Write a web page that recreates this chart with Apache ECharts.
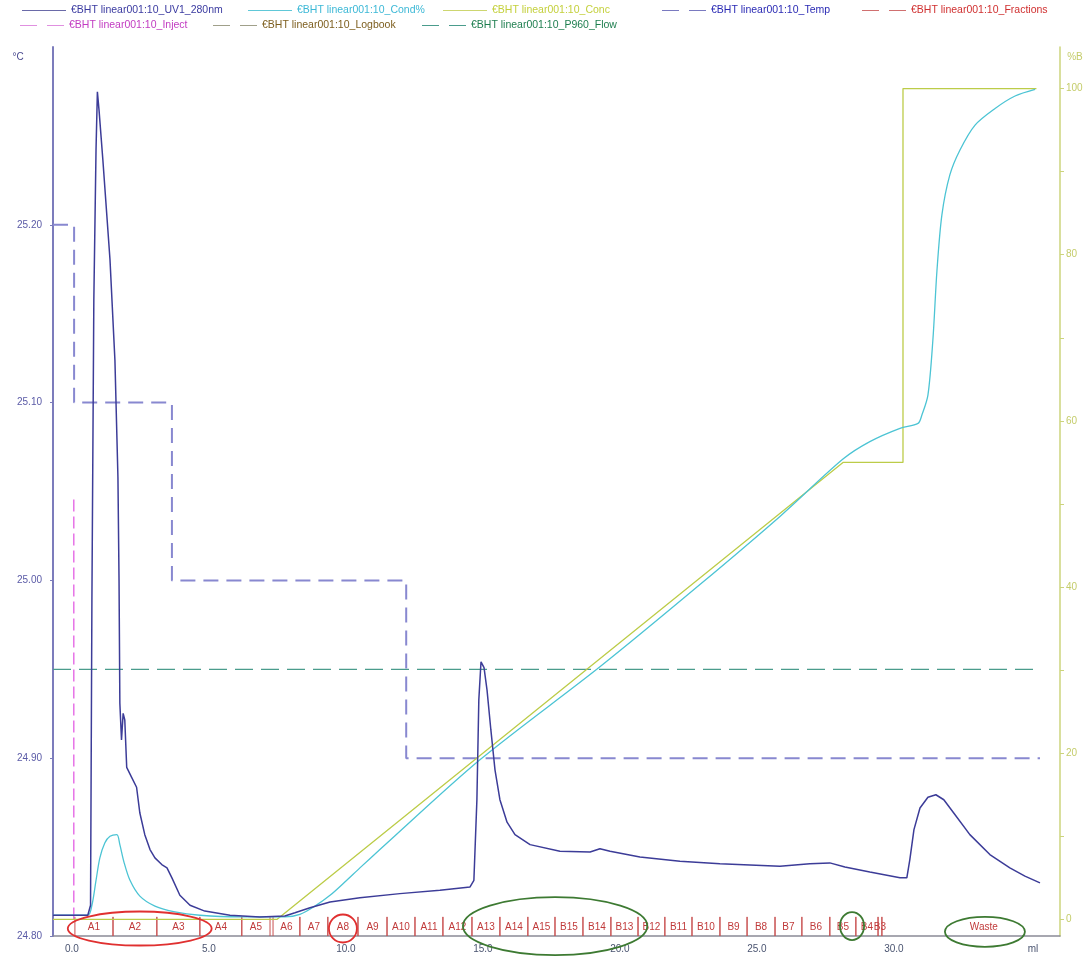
<!DOCTYPE html>
<html>
<head>
<meta charset="utf-8">
<script src="https://cdn.jsdelivr.net/npm/echarts@6/dist/echarts.min.js"></script>
<style>html,body{margin:0;padding:0;background:#fff}#main{width:1089px;height:958px}</style>
</head>
<body>
<div id="main"></div>
<script>
var runName = '€BHT linear001:10_';

// UV 280nm trace, [ml, signal]
var uv = [[-0.69,0.5],[0.58,0.5],[0.68,1.7],[0.73,38.4],[0.80,74.5],[0.88,92.6],[0.93,99.6],[0.99,97.4],
  [1.13,91.4],[1.39,79.4],[1.57,67.3],[1.68,53.2],[1.72,40.8],[1.75,26.0],[1.81,21.6],[1.87,24.8],
  [1.93,24.0],[2.00,18.3],[2.18,17.1],[2.36,15.9],[2.48,12.8],[2.66,10.2],[2.85,8.4],[3.03,7.4],
  [3.28,6.6],[3.47,6.2],[3.65,5.0],[3.94,2.9],[4.31,1.7],[4.85,1.0],[5.77,0.5],[6.86,0.3],[7.77,0.4],
  [8.14,0.8],[8.69,1.4],[9.42,2.1],[10.51,2.6],[11.97,3.1],[13.43,3.5],[14.53,3.9],[14.67,4.7],
  [14.78,14.4],[14.85,26.4],[14.93,31.0],[15.04,30.3],[15.15,27.6],[15.29,22.8],[15.44,18.0],
  [15.62,14.4],[15.88,11.7],[16.17,10.2],[16.72,9.0],[17.81,8.2],[18.91,8.1],[19.27,8.5],[19.64,8.2],
  [20.73,7.5],[22.19,7.0],[23.65,6.7],[25.84,6.4],[26.93,6.7],[27.66,6.8],[28.21,6.3],[29.12,5.7],
  [30.22,5.0],[30.47,5.0],[30.58,7.2],[30.73,10.8],[30.95,13.4],[31.24,14.7],[31.53,15.0],[31.82,14.4],
  [32.23,12.6],[32.77,10.2],[33.50,7.8],[34.23,6.2],[34.78,5.2],[35.33,4.4]];

// conductivity %, [ml, %]
var cond = [[-0.69,0.5],[0.58,0.5],[0.73,1.7],[0.88,4.7],[1.02,7.4],[1.20,9.2],[1.39,10.0],[1.64,10.2],
  [1.75,9.0],[1.90,6.9],[2.12,4.7],[2.48,2.8],[3.03,1.6],[3.76,0.9],[4.67,0.5],[6.13,0.3],[7.77,0.3],
  [8.32,0.6],[8.87,1.6],[9.42,2.9],[9.96,4.5],[10.51,6.2],[11.24,8.4],[14.89,19.2],[19.27,30.4],
  [22.92,40.3],[25.84,48.5],[28.14,55.4],[29.12,57.5],[30.22,59.1],[30.88,59.7],[31.02,60.7],
  [31.24,63.1],[31.42,69.7],[31.57,78.1],[31.75,84.8],[32.04,89.6],[32.41,92.6],[32.96,95.6],
  [33.69,97.6],[34.42,99.1],[35.15,99.9]];

// %B gradient
var conc = [[-0.69,0],[7.48,0],[28.14,55],[30.33,55],[30.33,100],[35.2,100]];

// temperature °C (stepwise)
var temp = [[-0.69,25.2],[0.08,25.1],[3.65,25.0],[12.2,24.9],[35.33,24.9]];

var inject = [[0.07,0],[0.07,51]];
var flow = [[-0.69,30.1],[35.33,30.1]];

var fracNames = ['A1','A2','A3','A4','A5','A6','A7','A8','A9','A10','A11','A12','A13','A14','A15',
  'B15','B14','B13','B12','B11','B10','B9','B8','B7','B6','B5','B4','B3','Waste'];
var fracStart = [0.11,1.50,3.10,4.67,6.20,7.34,8.32,9.34,10.44,11.50,12.52,13.54,14.60,15.62,16.64,
  17.63,18.65,19.67,20.66,21.64,22.63,23.65,24.64,25.66,26.64,27.66,28.61,29.42,29.56];
var fracEnd = [1.50,3.10,4.67,6.20,7.23,8.32,9.34,10.44,11.50,12.52,13.54,14.60,15.62,16.64,17.63,
  18.65,19.67,20.66,21.64,22.63,23.65,24.64,25.66,26.64,27.66,28.61,29.42,29.56,37.0];

var xTicks = [0,5,10,15,20,25,30];
var tempTicks = [24.8,24.9,25.0,25.1,25.2];
var concTicks = [0,20,40,60,80,100];
var concMinor = [0,10,20,30,40,50,60,70,80,90,100];

// hand-drawn marks around fractions: ml range, %B centre
var circles = [
  {from: -0.15, to: 5.1, at: -1.1, color: '#e03030'},
  {from: 9.38, to: 10.40, at: -1.1, color: '#e03030'},
  {from: 14.27, to: 21.0, at: -0.8, color: '#3d7a32'},
  {from: 28.03, to: 28.91, at: -0.8, color: '#3d7a32'},
  {from: 31.86, to: 34.78, at: -1.5, color: '#3d7a32'}
];
var circleRy = [17, 14, 29, 14, 15];

var myChart = echarts.init(document.getElementById('main'));
var font = 'Liberation Sans, Arial, sans-serif';
var solidIcon = 'path://M0,0h44v1h-44z';
var dashIcon = 'path://M0,0h17v1h-17zM27,0h17v1h-17z';

function leg(name, left, top, color, icon) {
    return {
        data: [{name: runName + name, icon: icon}], left: left, top: top, padding: 0,
        itemWidth: 44, itemHeight: 2, itemGap: 0, selectedMode: false,
        textStyle: {color: color, fontSize: 10.5, fontFamily: font}
    };
}

var option = {
    animation: false,
    backgroundColor: '#fff',
    legend: [
        leg('UV1_280nm', 22, 5, '#3a3aa0', solidIcon),
        leg('Cond%', 248, 5, '#3cb8d6', solidIcon),
        leg('Conc', 443, 5, '#c4d03c', solidIcon),
        leg('Temp', 662, 5, '#2a2ab4', dashIcon),
        leg('Fractions', 862, 5, '#d03030', dashIcon),
        leg('Inject', 20, 20, '#c23cc2', dashIcon),
        leg('Logbook', 213, 20, '#7d5e1e', dashIcon),
        leg('P960_Flow', 422, 20, '#1f7f50', dashIcon)
    ],
    grid: {left: 53, right: 29, top: 47, bottom: 22},
    xAxis: {
        type: 'value', min: -0.69, max: 36.06,
        name: 'ml', nameLocation: 'end', nameGap: -27,
        nameTextStyle: {color: '#4a5470', fontSize: 10, fontFamily: font, align: 'center', verticalAlign: 'top', padding: [8, 0, 0, 0]},
        axisLine: {onZero: false, lineStyle: {color: '#8a8a96', width: 1.5}},
        axisTick: {show: false},
        splitLine: {show: false},
        axisLabel: {customValues: xTicks, color: '#4a5470', fontSize: 10, fontFamily: font, margin: 8,
            formatter: function (v) { return v.toFixed(1); }}
    },
    yAxis: [
        {
            type: 'value', min: 24.8, max: 25.3, position: 'left',
            name: '°C', nameLocation: 'end', nameGap: -10,
            nameTextStyle: {color: '#4a4a90', fontSize: 10, fontFamily: font, align: 'center', verticalAlign: 'middle', padding: [0, 70, 0, 0]},
            axisLine: {show: true, onZero: false, lineStyle: {color: '#7c7cbc', width: 2}},
            axisTick: {show: true, length: 3, customValues: tempTicks, lineStyle: {color: '#7c7cbc'}},
            splitLine: {show: false},
            axisLabel: {customValues: tempTicks, color: '#5a5aa6', fontSize: 10, fontFamily: font, margin: 11,
                formatter: function (v) { return v.toFixed(2); }}
        },
        {
            type: 'value', min: -2, max: 105, position: 'right',
            name: '%B', nameLocation: 'end', nameGap: -10,
            nameTextStyle: {color: '#c4cc6a', fontSize: 10, fontFamily: font, align: 'center', verticalAlign: 'middle', padding: [0, 0, 0, 30]},
            axisLine: {show: true, onZero: false, lineStyle: {color: '#ccd47c', width: 1.5}},
            axisTick: {show: true, length: 4, customValues: concMinor, lineStyle: {color: '#ccd47c'}},
            splitLine: {show: false},
            axisLabel: {customValues: concTicks, color: '#c4cc6a', fontSize: 10, fontFamily: font, margin: 6}
        },
        {type: 'value', min: -2, max: 105, show: false}
    ],
    series: [
        {name: runName + 'P960_Flow', type: 'line', yAxisIndex: 2, data: flow, symbol: 'none',
            lineStyle: {color: '#4a9c8c', width: 1.3, type: [18, 8]}, itemStyle: {color: '#4a9c8c'}},
        {name: runName + 'Temp', type: 'line', yAxisIndex: 0, data: temp, step: 'end', symbol: 'none',
            lineStyle: {color: '#8888d0', width: 2, type: [15, 8]}, itemStyle: {color: '#7a7ac0'}},
        {name: runName + 'Inject', type: 'line', yAxisIndex: 1, data: inject, symbol: 'none',
            lineStyle: {color: '#e050e0', width: 1.2, type: [12, 5]}, itemStyle: {color: '#e090e0'}},
        {name: runName + 'Logbook', type: 'line', yAxisIndex: 1, data: [], symbol: 'none',
            lineStyle: {color: '#a0987a', width: 1.5, type: [15, 8]}, itemStyle: {color: '#a0a08a'}},
        {name: runName + 'Conc', type: 'line', yAxisIndex: 1, data: conc, symbol: 'none',
            lineStyle: {color: '#bccc48', width: 1.3}, itemStyle: {color: '#cdd670'}},
        {name: runName + 'Cond%', type: 'line', yAxisIndex: 1, data: cond, symbol: 'none', smooth: 0.3,
            lineStyle: {color: '#4cc4d4', width: 1.3}, itemStyle: {color: '#60c8d8'}},
        {name: runName + 'UV1_280nm', type: 'line', yAxisIndex: 2, data: uv, symbol: 'none',
            lineStyle: {color: '#3c3c98', width: 1.5}, itemStyle: {color: '#6a6aa8'}},
        {
            name: runName + 'Fractions', type: 'custom', yAxisIndex: 1,
            itemStyle: {color: '#d07070'},
            data: fracNames.map(function (n, i) { return [fracStart[i], fracEnd[i]]; }),
            encode: {x: [0, 1], y: -1},
            renderItem: function (params, api) {
                var s = api.value(0), e = api.value(1);
                var kids = [];
                [s, e].forEach(function (x) {
                    if (x > 36) return;
                    var a = api.coord([x, 0.3]), b = api.coord([x, -2]);
                    kids.push({type: 'line', shape: {x1: a[0], y1: a[1], x2: b[0], y2: b[1]},
                        style: {stroke: '#c85050', lineWidth: 1}});
                });
                var c = api.coord([(s + e) / 2, -1]);
                kids.push({type: 'text', x: c[0], y: c[1],
                    style: {text: fracNames[params.dataIndex], fill: '#c03a3a', fontSize: 10, fontFamily: font,
                        align: 'center', verticalAlign: 'middle'}});
                return {type: 'group', children: kids};
            }
        }
    ]
};
myChart.setOption(option);

var rings = circles.map(function (c, i) {
    var p0 = myChart.convertToPixel({xAxisIndex: 0, yAxisIndex: 1}, [c.from, c.at]);
    var p1 = myChart.convertToPixel({xAxisIndex: 0, yAxisIndex: 1}, [c.to, c.at]);
    return {
        type: 'ellipse', z: 100,
        shape: {cx: (p0[0] + p1[0]) / 2, cy: p0[1], rx: (p1[0] - p0[0]) / 2, ry: circleRy[i]},
        style: {fill: 'none', stroke: c.color, lineWidth: 1.8}
    };
});
myChart.setOption({graphic: rings});
</script>
</body>
</html>
